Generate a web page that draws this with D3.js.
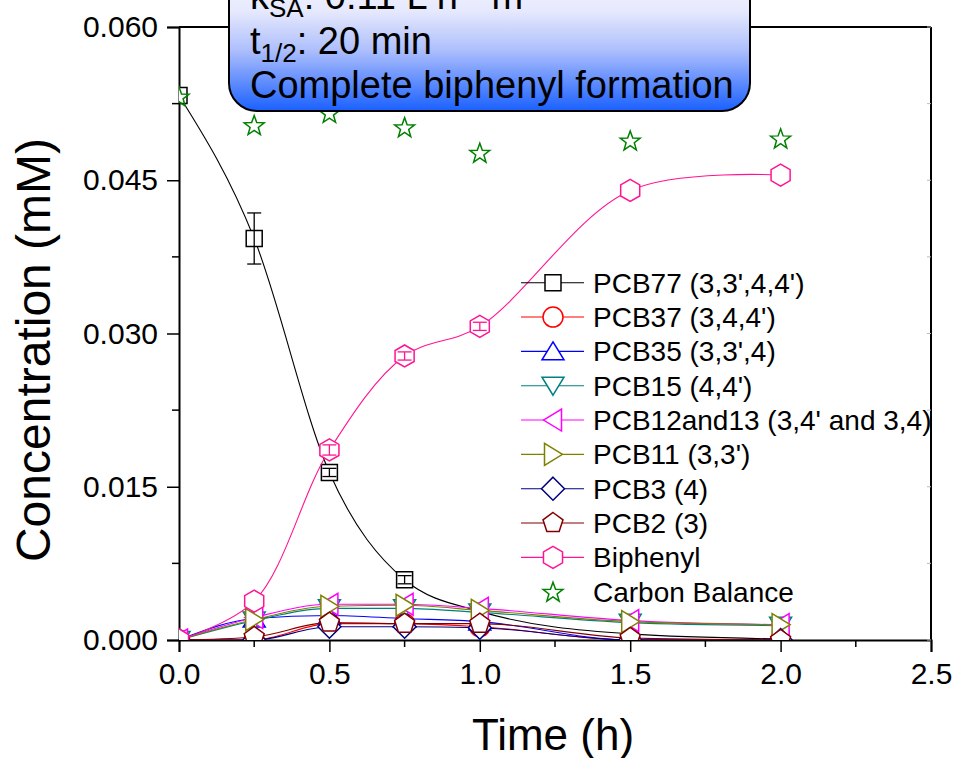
<!DOCTYPE html>
<html>
<head>
<meta charset="utf-8">
<script src="https://cdn.jsdelivr.net/npm/d3@7/dist/d3.min.js"></script>
<style>
  html, body { margin: 0; padding: 0; background: #fff; }
  svg { display: block; font-family: Arial, "Liberation Sans", sans-serif; }
</style>
</head>
<body>
<svg id="chart" width="955" height="758"></svg>
<script>
// ---------------- DATA ----------------
const time = [0, 0.25, 0.5, 0.75, 1.0, 1.5, 2.0];
const pcb77    = [0.0533, 0.0393, 0.0164, 0.0059, 0.0028, 0.0006, 0.0001];
const pcb77Err = [0, 0.0025, 0.0004, 0.0004, 0.0006, 0, 0];
const pcb37    = [0, 0, 0.0016, 0.0016, 0.0013, 0, 0];
const pcb35    = [0, 0.0021, 0.0024, 0.0021, 0.0018, 0, 0];
const pcb15    = [0, 0.0019, 0.0031, 0.0031, 0.0027, 0.0017, 0.0014];
const pcb1213  = [0, 0.0022, 0.0035, 0.0035, 0.0031, 0.0019, 0.0015];
const pcb11    = [0, 0.0020, 0.0033, 0.0034, 0.0029, 0.0018, 0.0015];
const pcb3     = [0, 0, 0.0013, 0.0013, 0.0012, 0, 0];
const pcb2     = [0, 0.0003, 0.0017, 0.0016, 0.0016, 0.0002, 0];
const biphenyl    = [0, 0.0038, 0.0186, 0.0278, 0.0307, 0.0440, 0.0455];
const biphenylErr = [0, 0, 0.0005, 0.0004, 0.0004, 0, 0];
const carbonBalance = [0.0532, 0.0504, 0.0516, 0.0502, 0.0477, 0.0489, 0.0491];

const seriesNames = ["PCB77 (3,3',4,4')", "PCB37 (3,4,4')", "PCB35 (3,3',4)", "PCB15 (4,4')",
  "PCB12and13 (3,4' and 3,4)", "PCB11 (3,3')", "PCB3 (4)", "PCB2 (3)", "Biphenyl", "Carbon Balance"];
const seriesColors = ["#000000", "#ff0000", "#0000ff", "#008080", "#ff00ff", "#808000",
  "#000080", "#800000", "#ff1493", "#008000"];
const seriesShapes = ["square", "circle", "triUp", "triDown", "triLeft", "triRight",
  "diamond", "pentagon", "hexagon", "star"];
const seriesValues = [pcb77, pcb37, pcb35, pcb15, pcb1213, pcb11, pcb3, pcb2, biphenyl, carbonBalance];
const seriesErrors = [pcb77Err, null, null, null, null, null, null, null, biphenylErr, null];
const seriesHasLine = [true, true, true, true, true, true, true, true, true, false];

const xTicks = [0, 0.5, 1.0, 1.5, 2.0, 2.5];
const xTickLabels = ["0.0", "0.5", "1.0", "1.5", "2.0", "2.5"];
const yTicks = [0, 0.015, 0.030, 0.045, 0.060];
const yTickLabels = ["0.000", "0.015", "0.030", "0.045", "0.060"];

// ---------------- LAYOUT ----------------
const svg = d3.select("#chart");
const L = 179, R = 931, T = 27, B = 640;
const x = d3.scaleLinear().domain([0, 2.5]).range([L, R]);
const y = d3.scaleLinear().domain([0, 0.06]).range([B, T]);

// Marker shape paths
function shapePath(type) {
  const poly = pts => "M" + pts.map(p => p[0].toFixed(2) + "," + p[1].toFixed(2)).join("L") + "Z";
  const reg = (n, r, rot) => d3.range(n).map(i => {
    const a = rot + i * 2 * Math.PI / n;
    return [r * Math.cos(a), r * Math.sin(a)];
  });
  switch (type) {
    case "square": return poly([[-8, -8], [8, -8], [8, 8], [-8, 8]]);
    case "circle": return "M10,0A10,10 0 1,1 -10,0A10,10 0 1,1 10,0Z";
    case "triUp": return poly([[0, -9.5], [11, 8.5], [-11, 8.5]]);
    case "triDown": return poly([[0, 9.5], [11, -8.5], [-11, -8.5]]);
    case "triLeft": return poly([[-9.5, 0], [8.5, -11], [8.5, 11]]);
    case "triRight": return poly([[9.5, 0], [-8.5, -11], [-8.5, 11]]);
    case "diamond": return poly([[0, -11.5], [11.5, 0], [0, 11.5], [-11.5, 0]]);
    case "pentagon": return poly(reg(5, 10.5, -Math.PI / 2));
    case "hexagon": return poly(reg(6, 11, -Math.PI / 2));
    case "star": {
      const pts = [];
      for (let i = 0; i < 10; i++) {
        const r = i % 2 === 0 ? 10.5 : 4.3;
        const a = -Math.PI / 2 + i * Math.PI / 5;
        pts.push([r * Math.cos(a), r * Math.sin(a) + 1]);
      }
      return poly(pts);
    }
  }
}

// Clip for plot area
const defs = svg.append("defs");
defs.append("clipPath").attr("id", "plotclip")
  .append("rect").attr("x", L).attr("y", T).attr("width", R - L).attr("height", B - T);

// Gradient for annotation box
const grad = defs.append("linearGradient").attr("id", "boxgrad")
  .attr("x1", 0).attr("y1", 0).attr("x2", 0).attr("y2", 1);
grad.append("stop").attr("offset", "0%").attr("stop-color", "#ffffff");
grad.append("stop").attr("offset", "38%").attr("stop-color", "#e6e9fd");
grad.append("stop").attr("offset", "62%").attr("stop-color", "#aebffc");
grad.append("stop").attr("offset", "100%").attr("stop-color", "#1a60ff");

// ---------------- AXES ----------------
const axesG = svg.append("g");
axesG.append("line").attr("x1", L).attr("x2", R).attr("y1", T).attr("y2", T).attr("stroke", "#000").attr("stroke-width", 2);
axesG.append("line").attr("x1", R).attr("x2", R).attr("y1", T).attr("y2", B).attr("stroke", "#000").attr("stroke-width", 2);

const yAxis = d3.axisLeft(y).tickValues(yTicks).tickFormat((d, i) => yTickLabels[i]).tickSize(12).tickPadding(9);
const gy = axesG.append("g").attr("transform", `translate(${L},0)`).call(yAxis);
gy.select(".domain").attr("stroke-width", 2);
gy.selectAll(".tick line").attr("stroke-width", 1.5);
gy.selectAll(".tick text").attr("font-size", 30).attr("font-family", "Arial, 'Liberation Sans', sans-serif").attr("fill", "#000");
const yMinor = d3.range(0.0075, 0.06, 0.015);
axesG.selectAll(".yminor").data(yMinor).join("line")
  .attr("x1", L - 7).attr("x2", L).attr("y1", d => y(d)).attr("y2", d => y(d))
  .attr("stroke", "#000").attr("stroke-width", 1.5);

const xAxis = d3.axisBottom(x).tickValues(xTicks).tickFormat((d, i) => xTickLabels[i]).tickSize(12).tickPadding(11);
const gx = axesG.append("g").attr("transform", `translate(0,${B})`).call(xAxis);
gx.select(".domain").attr("stroke-width", 2);
gx.selectAll(".tick line").attr("stroke-width", 1.5);
gx.selectAll(".tick text").attr("font-size", 30).attr("font-family", "Arial, 'Liberation Sans', sans-serif").attr("fill", "#000");
const xMinor = [0.25, 0.75, 1.25, 1.75, 2.25];
axesG.selectAll(".xminor").data(xMinor).join("line")
  .attr("x1", d => x(d)).attr("x2", d => x(d)).attr("y1", B).attr("y2", B + 7)
  .attr("stroke", "#000").attr("stroke-width", 1.5);

axesG.selectAll(".rtick").data(d3.range(0, 0.0601, 0.0075)).join("line")
  .attr("x1", R - 4).attr("x2", R).attr("y1", d => y(d)).attr("y2", d => y(d))
  .attr("stroke", "#bbb").attr("stroke-width", 1);

svg.append("text").attr("x", 553).attr("y", 750).attr("text-anchor", "middle")
  .attr("font-size", 44).text("Time (h)");
svg.append("text").attr("transform", "translate(50,350) rotate(-90)").attr("text-anchor", "middle")
  .attr("font-size", 48).text("Concentration (mM)");

// ---------------- SERIES ----------------
const plotG = svg.append("g").attr("clip-path", "url(#plotclip)");
seriesValues.forEach((vals, si) => {
  const col = seriesColors[si];
  const pts = time.map((t, i) => [t, vals[i]]);
  const g = plotG.append("g");
  if (seriesHasLine[si]) {
    const curve = seriesShapes[si] === "hexagon" ? d3.curveCatmullRom.alpha(0.5) : d3.curveMonotoneX;
    const line = d3.line().x(d => x(d[0])).y(d => y(d[1])).curve(curve);
    g.append("path").attr("d", line(pts)).attr("fill", "none").attr("stroke", col).attr("stroke-width", 1.1);
  }
  g.selectAll("path.m").data(pts).join("path").attr("class", "m")
    .attr("d", shapePath(seriesShapes[si]))
    .attr("transform", d => `translate(${x(d[0])},${y(d[1])})`)
    .attr("fill", seriesShapes[si] === "star" ? "none" : "#fff")
    .attr("stroke", col).attr("stroke-width", 1.5);
  const err = seriesErrors[si];
  if (err) {
    const ed = pts.map((p, i) => [p[0], p[1], err[i]]).filter(d => d[2] > 0);
    ed.forEach(d => {
      const cx = x(d[0]), y1 = y(d[1] + d[2]), y2 = y(d[1] - d[2]);
      g.append("line").attr("x1", cx).attr("x2", cx).attr("y1", y1).attr("y2", y2).attr("stroke", col).attr("stroke-width", 1.3);
      g.append("line").attr("x1", cx - 7).attr("x2", cx + 7).attr("y1", y1).attr("y2", y1).attr("stroke", col).attr("stroke-width", 1.3);
      g.append("line").attr("x1", cx - 7).attr("x2", cx + 7).attr("y1", y2).attr("y2", y2).attr("stroke", col).attr("stroke-width", 1.3);
    });
  }
});

// ---------------- LEGEND ----------------
const legG = svg.append("g");
const legY0 = 282.7, legStep = 34.33;
seriesNames.forEach((name, i) => {
  const cy = legY0 + i * legStep;
  if (seriesHasLine[i]) {
    legG.append("line").attr("x1", 521).attr("x2", 584).attr("y1", cy).attr("y2", cy)
      .attr("stroke", seriesColors[i]).attr("stroke-width", 1.1);
  }
  legG.append("path").attr("d", shapePath(seriesShapes[i]))
    .attr("transform", `translate(553,${cy})`)
    .attr("fill", seriesShapes[i] === "star" ? "none" : "#fff")
    .attr("stroke", seriesColors[i]).attr("stroke-width", 1.5);
  legG.append("text").attr("x", 593).attr("y", cy + 10).attr("font-size", 28).text(name);
});

// ---------------- ANNOTATION BOX ----------------
const boxG = svg.append("g");
boxG.append("rect").attr("x", 229).attr("y", -50).attr("width", 521).attr("height", 161)
  .attr("rx", 28).attr("ry", 28).attr("fill", "url(#boxgrad)").attr("stroke", "#000").attr("stroke-width", 2);
const t1 = boxG.append("text").attr("x", 250).attr("y", 9).attr("font-size", 38);
t1.append("tspan").text("k");
t1.append("tspan").attr("font-size", 26).attr("dy", 8).text("SA");
t1.append("tspan").attr("dy", -8).text(": 0.11 L h");
t1.append("tspan").attr("font-size", 26).attr("dy", -14).text("-1");
t1.append("tspan").attr("dy", 14).text(" m");
t1.append("tspan").attr("font-size", 26).attr("dy", -14).text("-2");
const t2 = boxG.append("text").attr("x", 250).attr("y", 54).attr("font-size", 38);
t2.append("tspan").text("t");
t2.append("tspan").attr("font-size", 26).attr("dy", 8).text("1/2");
t2.append("tspan").attr("dy", -8).text(": 20 min");
boxG.append("text").attr("x", 250).attr("y", 98).attr("font-size", 38).text("Complete biphenyl formation");
</script>
</body>
</html>
